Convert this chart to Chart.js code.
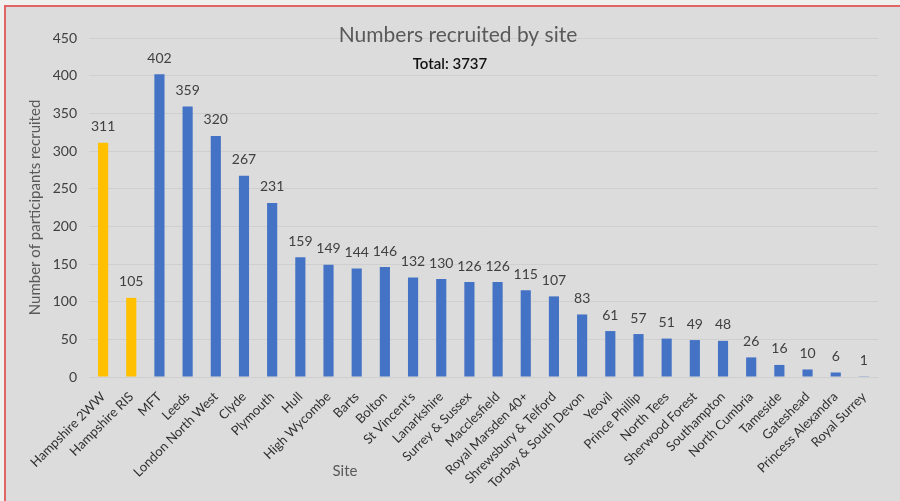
<!DOCTYPE html>
<html>
<head>
<meta charset="utf-8">
<script src="https://cdn.jsdelivr.net/npm/chart.js@4.4.1/dist/chart.umd.min.js"></script>
<style>
  html, body { margin: 0; padding: 0; background: #f0f0ef; }
  #wrap { width: 900px; height: 501px; }
</style>
</head>
<body>
<div id="wrap"><canvas id="c" width="900" height="501"></canvas></div>
<script>
const sites = [
    "Hampshire 2WW", "Hampshire RIS", "MFT", "Leeds", "London North West", "Clyde",
    "Plymouth", "Hull", "High Wycombe", "Barts", "Bolton", "St Vincent's",
    "Lanarkshire", "Surrey & Sussex", "Macclesfield", "Royal Marsden 40+",
    "Shrewsbury & Telford", "Torbay & South Devon", "Yeovil", "Prince Phillip",
    "North Tees", "Sherwood Forest", "Southampton", "North Cumbria", "Tameside",
    "Gateshead", "Princess Alexandra", "Royal Surrey"
];
const recruited = [
    311, 105, 402, 359, 320, 267, 231, 159, 149, 144, 146, 132, 130, 126,
    126, 115, 107, 83, 61, 57, 51, 49, 48, 26, 16, 10, 6, 1
];
// the two Hampshire sites are highlighted in yellow
const highlighted = ["Hampshire 2WW", "Hampshire RIS"];

const titleText = "Numbers recruited by site";
const totalText = "Total: " + recruited.reduce((a, b) => a + b, 0);
const yTitle = "Number of participants recruited";
const xTitle = "Site";

const FONT = "Lato, 'Open Sans', sans-serif";

const frame = {
    id: "frame",
    beforeDraw(chart) {
        const { ctx, width, height } = chart;
        ctx.save();
        ctx.fillStyle = "#f0f0ef";
        ctx.fillRect(0, 0, width, height);
        ctx.fillStyle = "#dcdcdc";
        ctx.fillRect(5, 6, width - 5, height - 6);
        ctx.fillStyle = "#e06666";
        ctx.fillRect(4, 5, width - 4, 2);
        ctx.fillRect(4, 5, 2, height - 5);
        ctx.restore();
    }
};

const labels = {
    id: "labels",
    afterDraw(chart) {
        const { ctx, chartArea } = chart;
        ctx.save();
        ctx.textAlign = "center";
        ctx.textBaseline = "middle";

        // values above the bars
        ctx.fillStyle = "#404040";
        ctx.font = `14px ${FONT}`;
        const meta = chart.getDatasetMeta(0);
        meta.data.forEach((bar, i) => {
            ctx.fillText(recruited[i], bar.x, bar.y - 16);
        });

        // title + total
        ctx.fillStyle = "#595959";
        ctx.font = `21px ${FONT}`;
        ctx.fillText(titleText, 458, 35);
        ctx.fillStyle = "#111";
        ctx.font = `600 15px ${FONT}`;
        ctx.fillText(totalText, 450, 64);

        // axis titles
        ctx.fillStyle = "#595959";
        ctx.font = `15px ${FONT}`;
        ctx.fillText(xTitle, 345, 471);
        ctx.translate(35, (chartArea.top + chartArea.bottom) / 2);
        ctx.rotate(-Math.PI / 2);
        ctx.fillText(yTitle, 0, 0);
        ctx.restore();
    }
};

new Chart(document.getElementById("c"), {
    type: "bar",
    plugins: [frame, labels],
    data: {
        labels: sites,
        datasets: [{
            data: recruited,
            backgroundColor: sites.map(s => highlighted.includes(s) ? "#ffc000" : "#4472c4"),
            categoryPercentage: 0.8,
            barPercentage: 0.45
        }]
    },
    options: {
        responsive: false,
        animation: false,
        layout: { padding: { left: 6, top: 38, right: 22, bottom: 0 } },
        plugins: {
            legend: { display: false },
            tooltip: { enabled: false }
        },
        scales: {
            y: {
                min: 0,
                max: 450,
                ticks: { stepSize: 50, color: "#404040", font: { family: FONT, size: 14 }, padding: 12 },
                grid: { color: "#cfcfcf", drawTicks: false },
                border: { display: false },
                afterFit(scale) { scale.width = 83; }
            },
            x: {
                ticks: {
                    color: "#303030",
                    font: { family: FONT, size: 13 },
                    minRotation: 45,
                    maxRotation: 45,
                    autoSkip: false,
                    padding: 4
                },
                grid: { display: false },
                border: { color: "#cfcfcf" },
                afterFit(scale) { scale.height = 124; }
            }
        }
    }
});
</script>
</body>
</html>
